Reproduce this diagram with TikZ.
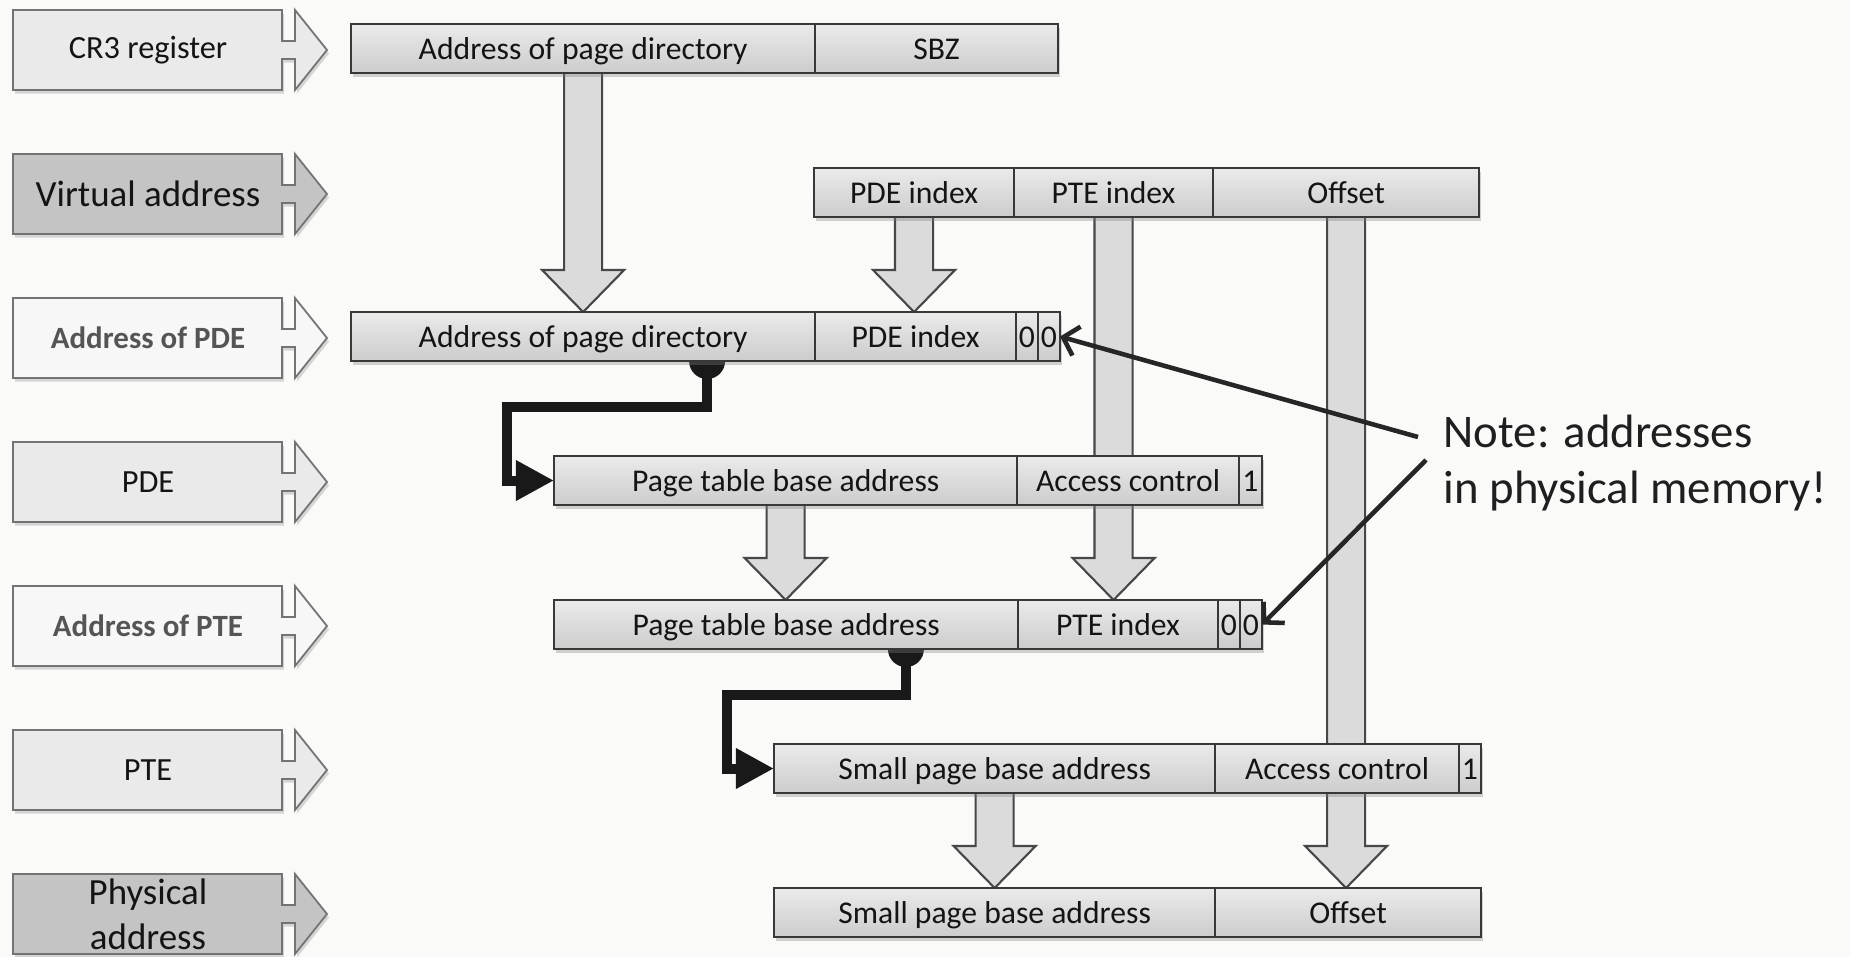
\documentclass[tikz,border=0pt]{standalone}
\usepackage{fontspec}
\setmainfont{Carlito}
\usetikzlibrary{arrows.meta,shadows,calc}
\pgfdeclarelayer{base}
\pgfdeclarelayer{under}
\pgfsetlayers{base,under,main}
\definecolor{bgcol}{HTML}{FAFAF9}
\definecolor{lightbox}{HTML}{EAEAEA}
\definecolor{darkbox}{HTML}{C4C4C4}
\definecolor{greytext}{HTML}{555555}
\tikzset{
  cell/.style={draw=black!78, line width=0.6pt, top color=gray!16, bottom color=gray!40,
    minimum height=0.49cm, inner sep=0pt, outer sep=0pt, anchor=north west,
    text height=7.3pt, text depth=1.3pt,
    font=\fontsize{9}{10}\selectfont, text=black!92,
    drop shadow={shadow xshift=0.02cm, shadow yshift=-0.035cm, opacity=0.35}},
  lboxshape/.style={draw=black!55, line width=0.5pt,
    drop shadow={shadow xshift=0.02cm, shadow yshift=-0.035cm, opacity=0.3}},
  ltext/.style={font=\fontsize{9.2}{10.5}\selectfont, text=black!92, inner sep=0pt},
  lbig/.style={font=\fontsize{10.5}{12.8}\selectfont, text=black!92, inner sep=0pt, align=center},
  lbold/.style={font=\fontsize{8.8}{10}\selectfont\bfseries, text=greytext, inner sep=0pt},
  barrow/.style={draw=black!72, line width=0.6pt, fill=gray!28},
  elbow/.style={line width=0.1cm, draw=black!90, -{Triangle[length=0.38cm,width=0.38cm]}},
  notearrow/.style={line width=1.3pt, draw=black!85, -{Straight Barb[length=0.14cm,width=0.3cm]}},
  notetext/.style={font=\fontsize{13.3}{15.9}\selectfont, text=black!88, inner sep=0pt, align=left}
}
\newcommand{\lbox}[5]{%
  \path[lboxshape, fill=#3] (13,#2-40) -- (282,#2-40) -- (282,#2-9) -- (295,#2-9) -- (295,#2-40)
    -- (327,#2) -- (295,#2+40) -- (295,#2+9) -- (282,#2+9) -- (282,#2+40) -- (13,#2+40) -- cycle;
  \node[#4] (#1) at (148,#2) {#5};}
\newcommand{\blockarrow}[2]{%
  \draw[barrow] let \p1=(#1.south), \p2=(#2.north) in
    (\x1-0.19cm,\y1+0.03cm) -- (\x1-0.19cm,\y2+0.42cm) -- (\x1-0.41cm,\y2+0.42cm) -- (\x1,\y2)
    -- (\x1+0.41cm,\y2+0.42cm) -- (\x1+0.19cm,\y2+0.42cm) -- (\x1+0.19cm,\y1+0.03cm) -- cycle;}
\begin{document}
\begin{tikzpicture}[x=0.01cm,y=-0.01cm]
\useasboundingbox (0,0) rectangle (1850,957);
\begin{pgfonlayer}{base}
  \fill[bgcol] (0,0) rectangle (1850,957);
\end{pgfonlayer}

% left column
\lbox{l1}{50}{lightbox}{ltext}{CR3 register}
\lbox{l2}{194}{darkbox}{lbig}{Virtual address}
\lbox{l3}{338}{white!94!gray}{lbold}{Address of PDE}
\lbox{l4}{482}{lightbox}{ltext}{PDE}
\lbox{l5}{626}{white!94!gray}{lbold}{Address of PTE}
\lbox{l6}{770}{lightbox}{ltext}{PTE}
\lbox{l7}{914}{darkbox}{lbig}{Physical\\address}

% row 1
\node[cell, minimum width=4.64cm] (r1a) at (351,24) {Address of page directory};
\node[cell, minimum width=2.43cm] (r1b) at (815,24) {SBZ};
% row 2
\node[cell, minimum width=2.00cm] (r2a) at (814,168) {PDE index};
\node[cell, minimum width=1.99cm] (r2b) at (1014,168) {PTE index};
\node[cell, minimum width=2.66cm] (r2c) at (1213,168) {Offset};
% row 3
\node[cell, minimum width=4.64cm] (r3a) at (351,312) {Address of page directory};
\node[cell, minimum width=2.01cm] (r3b) at (815,312) {PDE index};
\node[cell, minimum width=0.22cm] (r3z1) at (1016,312) {0};
\node[cell, minimum width=0.22cm] (r3z2) at (1038,312) {0};
% row 4
\node[cell, minimum width=4.63cm] (r4a) at (554,456) {Page table base address};
\node[cell, minimum width=2.22cm] (r4b) at (1017,456) {Access control};
\node[cell, minimum width=0.23cm] (r4c) at (1239,456) {1};
% row 5
\node[cell, minimum width=4.64cm] (r5a) at (554,600) {Page table base address};
\node[cell, minimum width=2.00cm] (r5b) at (1018,600) {PTE index};
\node[cell, minimum width=0.22cm] (r5z1) at (1218,600) {0};
\node[cell, minimum width=0.22cm] (r5z2) at (1240,600) {0};
% row 6
\node[cell, minimum width=4.41cm] (r6a) at (774,744) {Small page base address};
\node[cell, minimum width=2.44cm] (r6b) at (1215,744) {Access control};
\node[cell, minimum width=0.22cm] (r6c) at (1459,744) {1};
% row 7
\node[cell, minimum width=4.41cm] (r7a) at (774,888) {Small page base address};
\node[cell, minimum width=2.66cm] (r7b) at (1215,888) {Offset};

% block arrows and elbows beneath the bars
\begin{pgfonlayer}{under}
  \blockarrow{r1a}{r3a}
  \blockarrow{r2a}{r3b}
  \blockarrow{r2b}{r5b}
  \blockarrow{r2c}{r7b}
  \blockarrow{r4a}{r5a}
  \blockarrow{r6a}{r7a}
  \coordinate (e1s) at ($(r3a.south west)!0.767!(r3a.south east)$);
  \coordinate (e2s) at ($(r5a.south west)!0.758!(r5a.south east)$);
  \fill[black!90] (e1s) circle (0.18cm);
  \fill[black!90] (e2s) circle (0.18cm);
  \draw[elbow] (e1s) -- ++(0,46) -- ++(-200,0) |- (r4a.west);
  \draw[elbow] (e2s) -- ++(0,46) -- ++(-179,0) |- (r6a.west);
\end{pgfonlayer}

% note
\node[notetext, anchor=north west] (note) at (1443,414) {Note: addresses\\in physical memory!};
\coordinate (n1) at (1418,437);
\coordinate (n2) at (1426,460);
\draw[notearrow] (n1) -- (r3z2.east);
\draw[notearrow] (n2) -- (r5z2.east);
\end{tikzpicture}
\end{document}
